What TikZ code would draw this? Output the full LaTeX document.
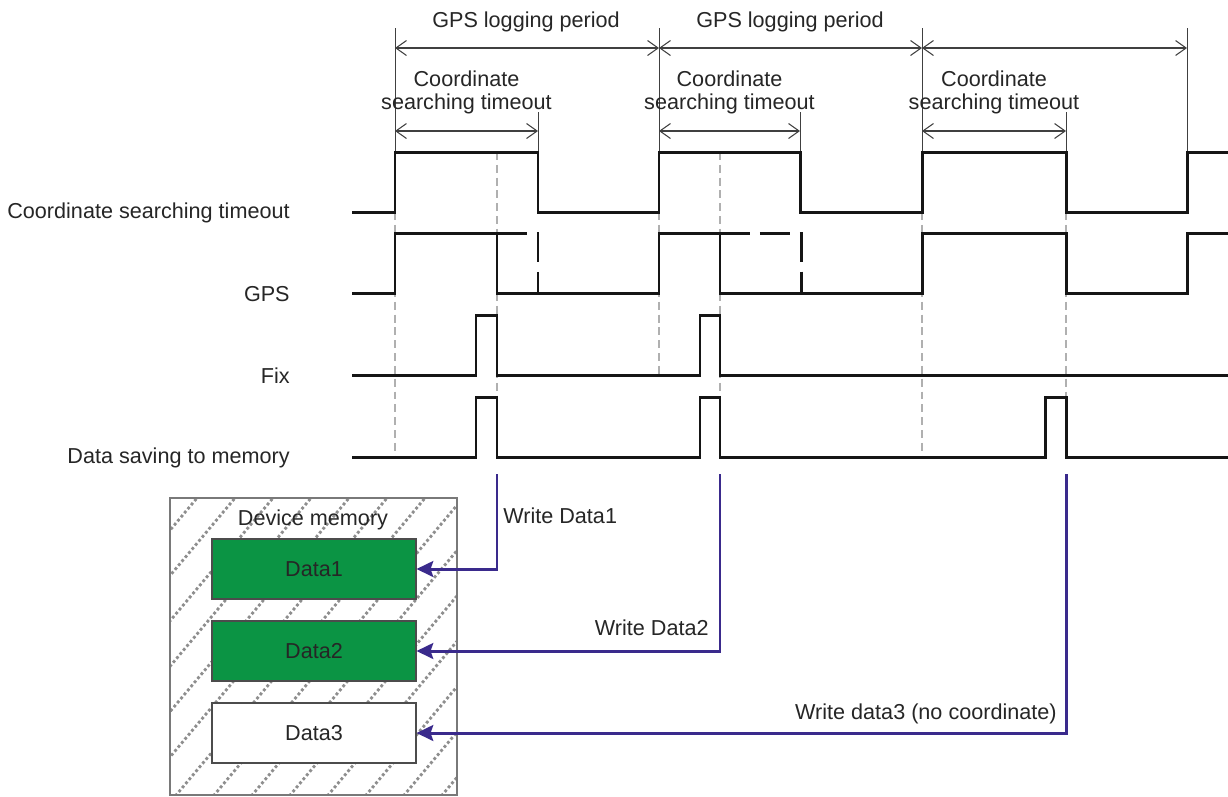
\documentclass[tikz,border=0pt]{standalone}
\usepackage{fontspec}
\setmainfont{Liberation Sans}
\usepackage{tikz}
\usetikzlibrary{arrows.meta,positioning,calc}
\definecolor{sigink}{HTML}{151515}
\definecolor{guidegray}{HTML}{B0B0B0}
\definecolor{writeink}{HTML}{3A2A8C}
\definecolor{memgreen}{HTML}{0B9444}
\definecolor{hatchgray}{HTML}{8E8E8E}
\definecolor{textink}{HTML}{262626}
\tikzset{
  signal/.style={line width=1.7pt, sigink},
  ghost/.style={signal, dash pattern=on 17pt off 5.7pt},
  guide/.style={guidegray, line width=0.7pt, dash pattern=on 4.5pt off 2.8pt},
  dimline/.style={line width=0.6pt, black!75, {Straight Barb[length=6pt,width=8.5pt]}-{Straight Barb[length=6pt,width=8.5pt]}},
  extline/.style={line width=0.5pt, black!75},
  wire/.style={writeink, line width=1.7pt, ->},
  lbl/.style={font=\fontsize{12.3}{13}\selectfont, text=textink, inner sep=0pt},
  cell/.style={draw=black!70, line width=0.6pt, minimum width=4.08cm, minimum height=1.2cm, lbl},
  hatch/.style={hatchgray, line width=1.6pt, dash pattern=on 1.6pt off 1.4pt}
}
\begin{document}
\begin{tikzpicture}[x=0.02cm, y=-0.02cm, >={Stealth[length=9.5pt,width=9pt,inset=1.5pt]}]
\useasboundingbox[fill=white] (0,0) rectangle (1228,796);

% row labels
\node[lbl, anchor=east] (lblcst) at (290,213) {Coordinate searching timeout};
\node[lbl, anchor=east] (lblgps) at (290,294) {GPS};
\node[lbl, anchor=east] (lblfix) at (290,376) {Fix};
\node[lbl, anchor=east] (lbldata) at (290,458) {Data saving to memory};

% guides
\foreach \x/\ya/\yb in {395/212/457, 497/152/397, 659/212/375, 720/152/397, 922/212/457, 1066/212/397}
  \draw[guide] (\x,\ya) -- (\x,\yb);

% period and timeout dimensions
\foreach \x in {395,659,922,1187}
  \draw[extline] (\x,28) -- (\x,152);
\foreach \x in {538,800,1066}
  \draw[extline] (\x,112) -- (\x,152);
\coordinate (p0) at (395,48);
\coordinate (p1) at (659,48);
\coordinate (p2) at (922,48);
\coordinate (p3) at (1187,48);
\draw[dimline] (p0) -- (p1);
\draw[dimline] (p1) -- (p2);
\draw[dimline] (p2) -- (p3);
\node[lbl] (per1) at (526,22) {GPS logging period};
\node[lbl] (per2) at (790,22) {GPS logging period};
\foreach \a/\b/\i in {395/538/1, 659/800/2, 922/1066/3} {
  \draw[dimline] (\a,131) -- (\b,131);
  \node[lbl, align=center] (tmo\i) at ({(\a+\b)/2},92) {Coordinate\\searching timeout};
}

% signals
\draw[signal] (352,212) -- (395,212) -- (395,152) -- (538,152) -- (538,212) -- (659,212) -- (659,152)
  -- (800,152) -- (800,212) -- (922,212) -- (922,152) -- (1066,152) -- (1066,212) -- (1187,212)
  -- (1187,152) -- (1228,152);
\draw[signal] (352,293) -- (395,293) -- (395,233) -- (497,233) -- (497,293) -- (659,293) -- (659,233)
  -- (720,233) -- (720,293) -- (922,293) -- (922,233) -- (1066,233) -- (1066,293) -- (1187,293)
  -- (1187,233) -- (1228,233);
\draw[ghost] (497,233) -- (538,233) -- (538,293);
\draw[ghost] (720,233) -- (801,233) -- (801,293);
\draw[signal] (352,375) -- (476,375) -- (476,315) -- (497,315) -- (497,375) -- (700,375) -- (700,315)
  -- (720,315) -- (720,375) -- (1228,375);
\draw[signal] (352,457) -- (476,457) -- (476,397) -- (497,397) -- (497,457) -- (700,457) -- (700,397)
  -- (720,397) -- (720,457) -- (1045,457) -- (1045,397) -- (1066,397) -- (1066,457) -- (1228,457);

% device memory
\begin{scope}
  \clip (170,498) rectangle (457,795);
  \foreach \k in {0,...,16}
    \draw[hatch] ({-94+38*\k},800) -- ({-94+38*\k+253},498);
\end{scope}
\draw[hatchgray!85!black, line width=1pt] (170,498) rectangle (457,795);
\node[lbl] (memlbl) at (313,520) {Device memory};
\node[cell, fill=memgreen] (data1) at (314,569) {Data1};
\node[cell, fill=memgreen] (data2) at (314,651) {Data2};
\node[cell, fill=white] (data3) at (314,733) {Data3};

% writes
\coordinate (w1) at (497,474);
\coordinate (w2) at (720,474);
\coordinate (w3) at (1066,474);
\draw[wire] (w1) |- (data1.east);
\draw[wire] (w2) |- (data2.east);
\draw[wire] (w3) |- (data3.east);
\node[lbl, anchor=west] (wr1) at (503,516) {Write Data1};
\node[lbl, anchor=east] (wr2) at (709,628) {Write Data2};
\node[lbl, anchor=east] (wr3) at (1057,714) {Write data3 (no coordinate)};
\end{tikzpicture}
\end{document}
